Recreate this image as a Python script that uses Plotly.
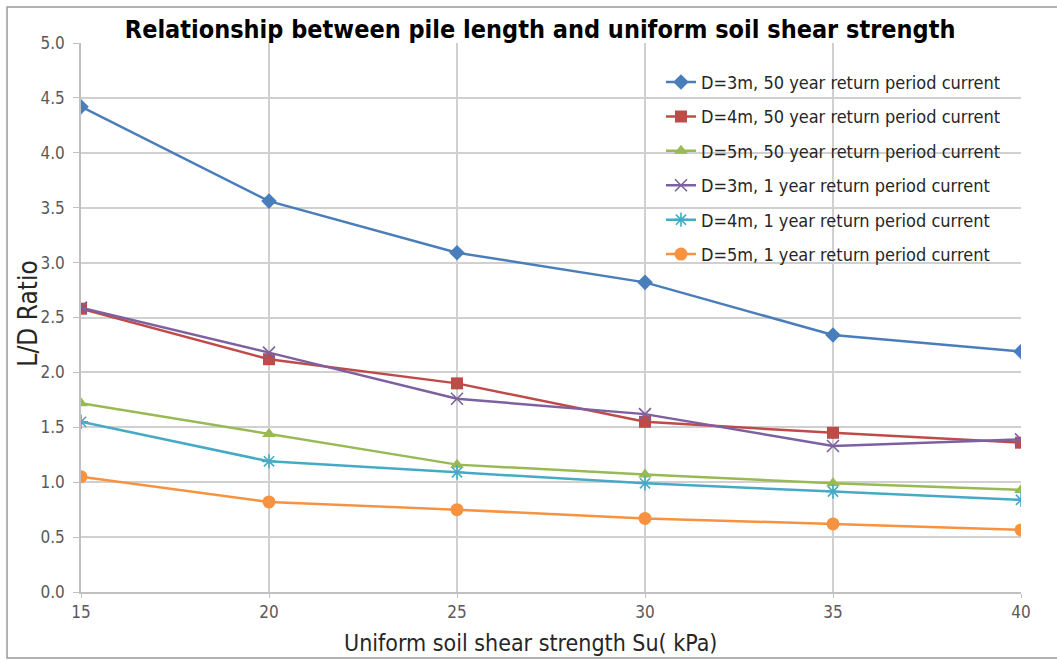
import plotly.graph_objects as go

# Shear strength values on the x axis (kPa)
su_kpa = [15, 20, 25, 30, 35, 40]

# L/D ratio for each pile diameter and current return period
d3_50yr = [4.42, 3.56, 3.09, 2.82, 2.34, 2.19]
d4_50yr = [2.58, 2.12, 1.90, 1.55, 1.45, 1.36]
d5_50yr = [1.72, 1.44, 1.16, 1.07, 0.99, 0.93]
d3_1yr = [2.59, 2.18, 1.76, 1.62, 1.33, 1.39]
d4_1yr = [1.55, 1.19, 1.09, 0.99, 0.915, 0.84]
d5_1yr = [1.05, 0.82, 0.75, 0.67, 0.62, 0.565]

series_names = [
    "D=3m, 50 year return period current",
    "D=4m, 50 year return period current",
    "D=5m, 50 year return period current",
    "D=3m, 1 year return period current",
    "D=4m, 1 year return period current",
    "D=5m, 1 year return period current",
]

y_ticks = [0.0, 0.5, 1.0, 1.5, 2.0, 2.5, 3.0, 3.5, 4.0, 4.5, 5.0]

styles = [
    dict(color="#4A7EBB", symbol="diamond", size=12, lw=0),
    dict(color="#BE4B48", symbol="square", size=12, lw=0),
    dict(color="#98B954", symbol="triangle-up", size=12, lw=0),
    dict(color="#7D60A0", symbol="x-thin-open", size=12, lw=1.6),
    dict(color="#46AAC5", symbol="asterisk-open", size=12, lw=1.6),
    dict(color="#F69240", symbol="circle", size=13, lw=0),
]

FONT = "Liberation Sans Narrow, DejaVu Sans Condensed, Arial, sans-serif"

fig = go.Figure()
for i, (name, vals, st) in enumerate(zip(series_names,
                                         [d3_50yr, d4_50yr, d5_50yr, d3_1yr, d4_1yr, d5_1yr],
                                         styles)):
    fig.add_trace(go.Scatter(
        x=su_kpa, y=vals, name=name, mode="lines+markers",
        legendgroup=f"g{i}",
        line=dict(color=st["color"], width=2.5),
        marker=dict(symbol=st["symbol"], size=st["size"], color=st["color"],
                    line=dict(color=st["color"], width=st["lw"])),
    ))

# Outer chart frame
fig.add_shape(type="rect", xref="paper", yref="paper",
              x0=-0.0787, x1=1.2, y0=-0.12, y1=1.0656,
              line=dict(color="#9a9a9a", width=1.5), layer="below")

# Axis titles placed as annotations (centred on the chart area)
fig.add_annotation(text="Uniform soil shear strength Su( kPa)", xref="paper", yref="paper",
                   x=0.4777, y=-0.093, xanchor="center", yanchor="middle",
                   showarrow=False, font=dict(size=23, color="#262626", family=FONT))
fig.add_annotation(text="L/D Ratio", xref="paper", yref="paper",
                   x=-0.0564, y=0.507, xanchor="center", yanchor="middle", textangle=-90,
                   showarrow=False, font=dict(size=26, color="#262626", family=FONT))

fig.update_layout(
    width=1057, height=660,
    margin=dict(l=81, r=36, t=43, b=68),
    paper_bgcolor="white", plot_bgcolor="white",
    font=dict(family=FONT, color="#404040"),
    title=dict(text="<b>Relationship between pile length and uniform soil shear strength</b>",
               x=0.511, xanchor="center", y=0.955, yanchor="middle",
               font=dict(size=25, color="#000000", family=FONT)),
    legend=dict(x=0.617, xanchor="left", y=0.962, yanchor="top",
                bgcolor="rgba(0,0,0,0)", traceorder="grouped",
                tracegroupgap=8,
                font=dict(size=18, color="#262626", family=FONT)),
    xaxis=dict(
        range=[15, 40], tickvals=su_kpa, ticktext=[str(v) for v in su_kpa],
        showgrid=True, gridcolor="#d0d0d0", gridwidth=1.5,
        showline=True, linecolor="#c0c0c0", linewidth=1.5,
        ticks="outside", ticklen=4, tickcolor="#c0c0c0",
        tickfont=dict(size=17, color="#595959"),
        zeroline=False,
    ),
    yaxis=dict(
        range=[0, 5.0], tickvals=y_ticks, ticktext=[f"{v:.1f}" for v in y_ticks],
        showgrid=True, gridcolor="#d0d0d0", gridwidth=1.5,
        showline=True, linecolor="#c0c0c0", linewidth=1.5,
        ticks="outside", ticklen=6, tickcolor="#c0c0c0",
        ticklabelstandoff=5,
        tickfont=dict(size=17, color="#595959"),
        zeroline=False,
    ),
)

fig.write_html("out.html")
